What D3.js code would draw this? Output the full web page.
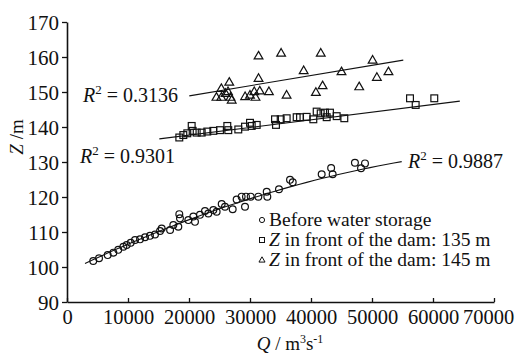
<!DOCTYPE html>
<html>
<head>
<meta charset="utf-8">
<script src="https://cdn.jsdelivr.net/npm/d3@7"></script>
<style>
  body { margin: 0; background: #fff; }
  text { font-family: "Liberation Serif", "Times New Roman", serif; fill: #111; }
</style>
</head>
<body>
<div id="chart"></div>
<script>
// Q (m3/s) and Z (m)
const beforeQ = [4300, 5250, 6670, 7600, 8400, 9240, 9780, 10440, 11150, 11970, 12790, 13600, 14430, 15250, 15520, 16900, 17430, 18250, 18410, 18520, 19890, 20710, 20980, 21800, 22620, 23170, 23990, 24530, 25360, 25900, 27160, 27810, 28630, 29180, 29340, 30110, 31370, 32740, 32840, 34750, 36560, 37000, 41750, 43300, 43550, 47200, 48200, 48850];
const beforeZ = [101.7, 102.5, 103.4, 104.1, 104.9, 105.8, 106.3, 106.9, 107.7, 107.9, 108.5, 108.9, 109.3, 110.3, 111.0, 110.6, 112.0, 111.5, 115.1, 113.9, 113.4, 114.4, 112.9, 114.9, 116.0, 115.3, 116.3, 115.8, 118.0, 117.2, 116.5, 119.3, 120.1, 117.2, 120.1, 120.1, 120.1, 121.5, 120.1, 122.2, 124.9, 124.2, 126.5, 128.3, 126.5, 129.8, 128.2, 129.6];

const dam135Q = [18410, 19070, 19720, 20440, 20600, 21260, 22080, 23000, 23990, 25080, 26280, 26440, 28080, 29180, 30000, 30280, 31100, 34100, 34260, 35030, 36010, 37650, 38200, 39290, 40380, 40930, 41590, 42290, 43110, 42570, 44210, 45460, 56230, 57160, 60210];
const dam135Z = [137.0, 137.7, 138.2, 140.3, 138.9, 138.4, 138.4, 138.7, 138.9, 139.1, 140.3, 139.1, 139.3, 140.1, 141.2, 140.3, 140.6, 142.2, 140.6, 142.2, 142.5, 142.8, 142.8, 142.9, 142.2, 144.4, 143.9, 144.1, 144.1, 142.8, 143.1, 142.5, 148.2, 146.3, 148.2];

const dam145Q = [24500, 25300, 25300, 26000, 26600, 26800, 27000, 26400, 29200, 30000, 30700, 30900, 31400, 31600, 31400, 33100, 35100, 36000, 38800, 40800, 41600, 41900, 45000, 47900, 50100, 50800, 52700];
const dam145Z = [148.5, 151.0, 148.5, 149.6, 152.8, 148.5, 147.7, 150.1, 148.7, 149.1, 150.1, 148.5, 153.9, 150.3, 160.3, 150.1, 161.1, 149.1, 156.1, 149.9, 161.1, 151.8, 155.8, 151.5, 159.1, 154.2, 155.8];

// trend lines as drawn: Q extent and Z at the ends / quadratic coefficients (Q in 10^4)
const trendBeforeQ = [2950, 54870];
const trendBeforeCoef = [98.54, 8.475, -0.4964];
const trend135Q = [15130, 64400];
const trend135Z = [136.6, 147.4];
const trend145Q = [20050, 55130];
const trend145Z = [148.9, 159.1];

const r2Labels = ["0.3136", "0.9301", "0.9887"];
const legendLabels = ["Before water storage", "in front of the dam: 135 m", "in front of the dam: 145 m"];
const xTicks = [0, 10000, 20000, 30000, 40000, 50000, 60000, 70000];
const yTicks = [90, 100, 110, 120, 130, 140, 150, 160, 170];

const width = 519, height = 356;
const svg = d3.select("#chart").append("svg")
  .attr("width", width).attr("height", height);

const x = d3.scaleLinear().domain([0, 70000]).range([67, 494]);
const y = d3.scaleLinear().domain([90, 170]).range([302, 22]);

// axes
const yAxis = svg.append("g")
  .attr("transform", "translate(67,0)")
  .call(d3.axisLeft(y).tickValues(yTicks).tickSize(5).tickSizeOuter(0).tickPadding(3));
const xAxis = svg.append("g")
  .attr("transform", "translate(0,302)")
  .call(d3.axisBottom(x).tickValues(xTicks).tickFormat(d3.format("d")).tickSize(-4).tickSizeOuter(0).tickPadding(7));
[xAxis, yAxis].forEach(g => {
  g.select(".domain").attr("stroke", "#111").attr("stroke-width", 1.6);
  g.selectAll(".tick line").attr("stroke", "#111").attr("stroke-width", 1.3);
  g.selectAll("text").attr("font-family", "Liberation Serif").attr("fill", "#111");
});
yAxis.selectAll("text").attr("font-size", 21).attr("dy", "0.34em");
xAxis.selectAll("text").attr("font-size", 20.5).attr("dy", "0.72em");
// last label pulled in so it stays inside the frame, as in the original
xAxis.selectAll(".tick").filter(d => d === 70000).select("text").attr("dx", -6);

// trend lines
const line = d3.line().x(d => x(d[0])).y(d => y(d[1]));
const quad = q => { const u = q / 10000; return trendBeforeCoef[0] + trendBeforeCoef[1] * u + trendBeforeCoef[2] * u * u; };
const curve = d3.range(trendBeforeQ[0], trendBeforeQ[1] + 1, (trendBeforeQ[1] - trendBeforeQ[0]) / 40).map(q => [q, quad(q)]);
const trendG = svg.append("g").attr("fill", "none").attr("stroke", "#111").attr("stroke-width", 1.1);
trendG.append("path").attr("d", line(curve));
trendG.append("path").attr("d", line(d3.zip(trend135Q, trend135Z)));
trendG.append("path").attr("d", line(d3.zip(trend145Q, trend145Z)));

// markers
const triPath = s => `M0,${-s}L${s * 0.95},${s * 0.65}L${-s * 0.95},${s * 0.65}Z`;
const marks = svg.append("g").attr("fill", "none").attr("stroke", "#111").attr("stroke-width", 1.2);
marks.selectAll(".c").data(d3.zip(beforeQ, beforeZ)).enter().append("circle")
  .attr("cx", d => x(d[0])).attr("cy", d => y(d[1])).attr("r", 3.4);
marks.selectAll(".s").data(d3.zip(dam135Q, dam135Z)).enter().append("rect")
  .attr("x", d => x(d[0]) - 3.4).attr("y", d => y(d[1]) - 3.4)
  .attr("width", 6.8).attr("height", 6.8);
marks.selectAll(".t").data(d3.zip(dam145Q, dam145Z)).enter().append("path")
  .attr("transform", d => `translate(${x(d[0])},${y(d[1])})`)
  .attr("d", triPath(4.6));

// R² labels
function r2(xp, yp, val) {
  const t = svg.append("text").attr("x", xp).attr("y", yp).attr("font-size", 20);
  t.append("tspan").attr("font-style", "italic").text("R");
  t.append("tspan").attr("dy", -8).attr("font-size", 13).text("2");
  t.append("tspan").attr("dy", 8).text(" = " + val);
}
r2(83, 102, r2Labels[0]);
r2(80, 163, r2Labels[1]);
r2(408, 168, r2Labels[2]);

// legend
const leg = svg.append("g");
const legY = [220, 240, 260];
leg.append("circle").attr("cx", 262).attr("cy", legY[0]).attr("r", 2.6)
  .attr("fill", "none").attr("stroke", "#111");
leg.append("rect").attr("x", 259.5).attr("y", legY[1] - 2.5).attr("width", 5).attr("height", 5)
  .attr("fill", "none").attr("stroke", "#111");
leg.append("path").attr("transform", `translate(262,${legY[2]})`).attr("d", triPath(3.2))
  .attr("fill", "none").attr("stroke", "#111");
legendLabels.forEach((lab, i) => {
  const t = leg.append("text").attr("x", 269).attr("y", legY[i] + 6).attr("font-size", 19.5);
  if (i > 0) {
    t.append("tspan").attr("font-style", "italic").text("Z");
    t.append("tspan").text(" " + lab);
  } else t.text(lab);
});

// axis titles
const yt = svg.append("text").attr("transform", "translate(23,137) rotate(-90)")
  .attr("text-anchor", "middle").attr("font-size", 19);
yt.append("tspan").attr("font-style", "italic").text("Z");
yt.append("tspan").text(" /m");

const xt = svg.append("text").attr("x", 290).attr("y", 350).attr("text-anchor", "middle").attr("font-size", 19);
xt.append("tspan").attr("font-style", "italic").text("Q");
xt.append("tspan").text(" / m");
xt.append("tspan").attr("dy", -7).attr("font-size", 12).text("3");
xt.append("tspan").attr("dy", 7).text("s");
xt.append("tspan").attr("dy", -7).attr("font-size", 12).text("-1");
</script>
</body>
</html>
